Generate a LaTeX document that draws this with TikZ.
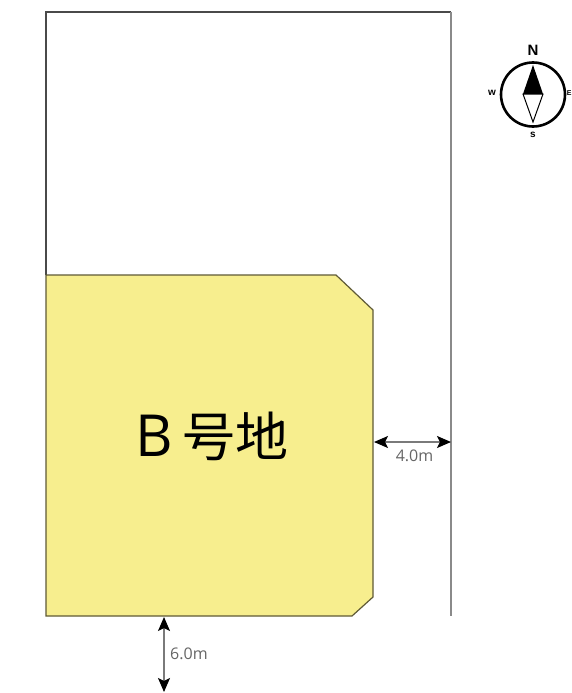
\documentclass[tikz,border=0pt]{standalone}
\usepackage{fontspec}
\setmainfont{Open Sans}
\newfontfamily\cjk{Noto Sans CJK JP}
\newfontfamily\compassfont{Liberation Sans}
\usetikzlibrary{arrows.meta}
\definecolor{lotfill}{HTML}{F7EE8E}
\definecolor{lotedge}{HTML}{5F5A36}
\definecolor{roadline}{HTML}{8A8A8A}
\definecolor{toplinec}{HTML}{4A4A4A}
\definecolor{dimgray}{HTML}{7A7A7A}
\definecolor{dimtext}{HTML}{666666}
\tikzset{
  dimarrow/.style={draw=dimgray,line width=1.4pt,{Stealth[black,length=14pt,width=12pt,inset=3pt]}-{Stealth[black,length=14pt,width=12pt,inset=3pt]}},
  dimlabel/.style={text=dimtext,inner sep=0pt,font=\fontsize{16}{16}\selectfont},
  compasslabel/.style={inner sep=0pt,font=\compassfont\bfseries\fontsize{10}{10}\selectfont}
}
\begin{document}
\begin{tikzpicture}[x=1pt,y=-1pt]
\useasboundingbox (0,0) rectangle (572,693);
\fill[white] (0,0) rectangle (572,693);
% site outline
\coordinate (tl) at (46,12);
\coordinate (tr) at (451,12);
\coordinate (br) at (451,616);
\coordinate (lotleft) at (46,275);
\draw[toplinec,line width=1.1pt] (lotleft) -- (tl) -- (tr);
\draw[roadline,line width=1.8pt] (tr) -- (br);
% lot
\draw[lotedge,line width=1.2pt,fill=lotfill] (46,275) -- (336,275) -- (373,310) -- (373,597) -- (352,616) -- (46,616) -- cycle;
\node[inner sep=0pt,anchor=center] (lotname) at (212,436) {\fontsize{58}{58}\selectfont B\hspace{9pt}\cjk\fontsize{53}{53}\selectfont 号地};
% dimensions
\coordinate (dimA) at (374,442);
\coordinate (dimB) at (451,442);
\draw[dimarrow] (dimA) -- (dimB);
\node[dimlabel] (dimAlabel) at (414.5,456) {4.0m};
\coordinate (dimC) at (164,617);
\coordinate (dimD) at (164,692);
\draw[dimarrow] (dimC) -- (dimD);
\node[dimlabel,anchor=west] (dimClabel) at (170,654) {6.0m};
% compass
\node[circle,draw=black,line width=2.6pt,minimum size=64pt,inner sep=0pt] (compass) at (533,94.5) {};
\fill[black] (533,65) -- (543,94) -- (523,94) -- cycle;
\draw[black,line width=1pt,fill=white] (523,94) -- (543,94) -- (533,122) -- cycle;
\node[compasslabel,font=\compassfont\bfseries\fontsize{15}{15}\selectfont] (north) at (533,50) {N};
\node[compasslabel] (south) at (533,135) {s};
\node[compasslabel] (west) at (492,93) {w};
\node[compasslabel,font=\compassfont\bfseries\fontsize{7}{7}\selectfont,anchor=east] (east) at (571.8,93) {E};
\end{tikzpicture}
\end{document}
